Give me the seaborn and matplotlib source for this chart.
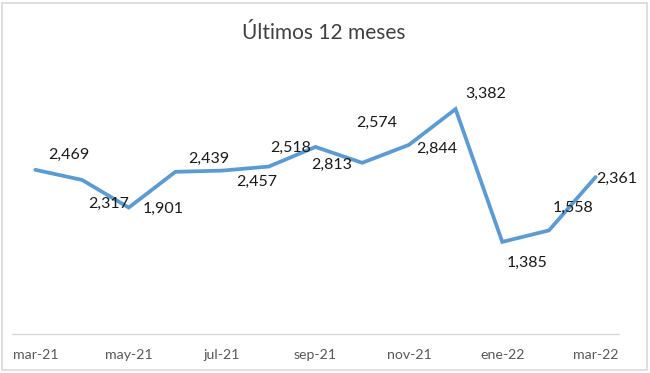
import matplotlib
matplotlib.use("Agg")
import matplotlib.pyplot as plt
import seaborn as sns
import pandas as pd
from matplotlib.patches import Rectangle

months = ["mar-21", "abr-21", "may-21", "jun-21", "jul-21", "ago-21", "sep-21",
          "oct-21", "nov-21", "dic-21", "ene-22", "feb-22", "mar-22"]
values = [2469, 2317, 1901, 2439, 2457, 2518, 2813, 2574, 2844, 3382, 1385, 1558, 2361]
shown_ticks = ["mar-21", "may-21", "jul-21", "sep-21", "nov-21", "ene-22", "mar-22"]
title = "Últimos 12 meses"

# label offsets in pixels (dx right, dy down) as placed in the reference
label_offsets_px = [(33, -15), (27, 24), (34, 1), (33, -13), (35, 11), (22, -19),
                    (16, 18), (15, -40), (28, 4), (30, -15), (25, 21), (24, -23), (21, 2)]

sns.set_style("white")
plt.rcParams["font.family"] = ["Lato", "DejaVu Sans"]

df = pd.DataFrame({"mes": months, "valor": values})

W, H = 650, 373
fig = plt.figure(figsize=(W / 100, H / 100), dpi=100)
ax = fig.add_axes([12 / W, (H - 334) / H, 607 / W, 266 / H])

sns.lineplot(data=df, x="mes", y="valor", ax=ax, color="#5B9BD5", linewidth=2.7,
             sort=False, solid_joinstyle="miter")

ax.set_xlim(-0.5, len(months) - 0.5)
ax.set_ylim(0, 4000)
ax.set_yticks([])
ax.set_xticks([months.index(m) for m in shown_ticks])
ax.set_xticklabels(shown_ticks, fontsize=10.2, color="#595959")
ax.tick_params(axis="x", length=0, pad=11)
ax.set_xlabel("")
ax.set_ylabel("")
for s in ["top", "left", "right"]:
    ax.spines[s].set_visible(False)
ax.spines["bottom"].set_color("#D9D9D9")
ax.spines["bottom"].set_linewidth(1.0)

for i, (v, (dx, dy)) in enumerate(zip(values, label_offsets_px)):
    ax.annotate(f"{v:,}", (i, v), xytext=(dx * 0.72, -dy * 0.72),
                textcoords="offset points", ha="center", va="center",
                fontsize=11.5, color="#1a1a1a")

fig.text(324 / W, 1 - 33 / H, title, ha="center", va="center", fontsize=15, color="#404040")

fig.patches.append(Rectangle((2 / W, 3 / H), 645 / W, 367 / H, transform=fig.transFigure,
                             fill=False, edgecolor="#D9D9D9", linewidth=1.2))

fig.savefig("out.png", dpi=100)
